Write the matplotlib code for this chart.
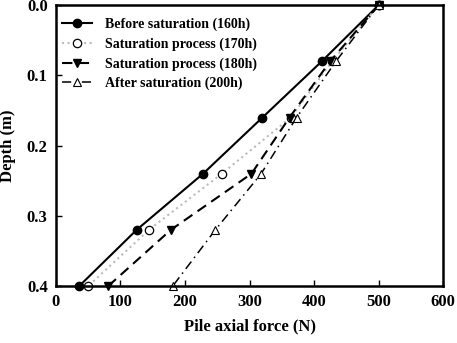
import numpy as np
import matplotlib.pyplot as plt

plt.rcParams['font.family'] = 'Liberation Serif'
plt.rcParams['font.weight'] = 'bold'

# depth of measuring points (m)
depth = [0.0, 0.08, 0.16, 0.24, 0.32, 0.40]

# pile axial force (N) at each stage
before_160h = [500, 412, 320, 228, 125, 36]
sat_170h = [500, 428, 364, 257, 144, 50]
sat_180h = [500, 425, 362, 303, 178, 81]
after_200h = [500, 434, 373, 318, 247, 181]

fig = plt.figure(figsize=(4.57, 3.43), dpi=100)
ax = fig.add_axes([0.1225, 0.166, 0.847, 0.819])

ax.plot(before_160h, depth, color='black', lw=1.5, marker='o', ms=6,
        mfc='black', label='Before saturation (160h)', clip_on=False)
ax.plot(sat_170h, depth, color='#bbbbbb', lw=1.5, ls=':', marker='o', ms=6,
        mfc='white', mec='black', mew=0.9, label='Saturation process (170h)', clip_on=False)
ax.plot(sat_180h, depth, color='black', lw=1.5, ls=(0, (5, 3)), marker='v', ms=6,
        mfc='black', label='Saturation process (180h)', clip_on=False)
ax.plot(after_200h, depth, color='black', lw=1.1, ls=(0, (6, 3, 1, 3)), marker='^', ms=6,
        mfc='white', mec='black', mew=0.8, label='After saturation (200h)', clip_on=False)

ax.set_xlim(0, 600)
ax.set_ylim(0.4, 0.0)
ax.set_xticks(np.arange(0, 601, 100))
ax.set_yticks(np.arange(0, 0.41, 0.1))
ax.set_yticklabels(['0.0', '0.1', '0.2', '0.3', '0.4'])
ax.tick_params(direction='in', length=4, width=1, labelsize=12, pad=6)
for lab in ax.get_xticklabels() + ax.get_yticklabels():
    lab.set_fontweight('bold')
for sp in ax.spines.values():
    sp.set_linewidth(1.8)

ax.set_xlabel('Pile axial force (N)', fontsize=12, fontweight='bold', labelpad=6)
ax.set_ylabel('Depth (m)', fontsize=12, fontweight='bold', labelpad=8)

ax.legend(loc='upper left', frameon=False, prop={'size': 10, 'weight': 'bold'},
          handlelength=2.2, handletextpad=0.9, labelspacing=0.45,
          borderaxespad=0.3, bbox_to_anchor=(-0.01, 0.99))

fig.savefig('out.png', dpi=100)
